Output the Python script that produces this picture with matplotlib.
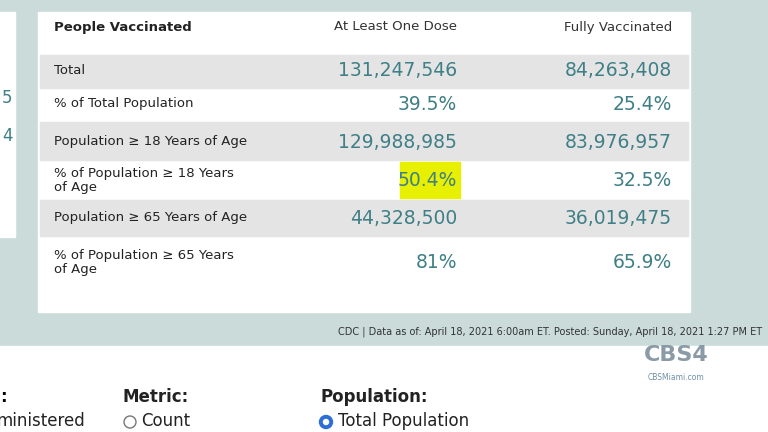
import matplotlib.pyplot as plt
from matplotlib.patches import Rectangle, Circle

header = ["People Vaccinated", "At Least One Dose", "Fully Vaccinated"]
row_labels = ["Total", "% of Total Population", "Population \u2265 18 Years of Age",
              "% of Population \u2265 18 Years\nof Age", "Population \u2265 65 Years of Age",
              "% of Population \u2265 65 Years\nof Age"]
one_dose = ["131,247,546", "39.5%", "129,988,985", "50.4%", "44,328,500", "81%"]
fully = ["84,263,408", "25.4%", "83,976,957", "32.5%", "36,019,475", "65.9%"]
row_top = [55, 88, 122, 160, 200, 236]
row_bot = [88, 122, 160, 200, 236, 292]
text_y = [71, 104, 142, 180, 218, 263]

teal = "#3f7f86"
fig = plt.figure(figsize=(7.68, 4.32), dpi=100)
ax = fig.add_axes([0, 0, 1, 1])
ax.set_xlim(0, 768)
ax.set_ylim(432, 0)
ax.axis("off")
fig.patch.set_facecolor("#cadbd9")

# left partial panel and main panel
ax.add_patch(Rectangle((0, 12), 15, 225, color="white"))
ax.text(2, 98, "5", color=teal, fontsize=12, va="center")
ax.text(2, 136, "4", color=teal, fontsize=12, va="center")
ax.add_patch(Rectangle((38, 12), 652, 300, color="white"))
for i, (t, b) in enumerate(zip(row_top, row_bot)):
    if i % 2 == 0:
        ax.add_patch(Rectangle((40, t), 648, b - t, color="#e4e4e4"))

ax.text(54, 27, header[0], fontsize=9.5, fontweight="bold", va="center", color="#222")
ax.text(457, 27, header[1], fontsize=9.5, ha="right", va="center", color="#333")
ax.text(672, 27, header[2], fontsize=9.5, ha="right", va="center", color="#333")

ax.add_patch(Rectangle((400, 162), 60, 36, color="#e6f000"))
for lab, a, b, y in zip(row_labels, one_dose, fully, text_y):
    ax.text(54, y, lab, fontsize=9.5, va="center", color="#222", linespacing=1.1)
    ax.text(457, y, a, fontsize=13.5, ha="right", va="center", color=teal)
    ax.text(672, y, b, fontsize=13.5, ha="right", va="center", color=teal)

ax.text(762, 332, "CDC | Data as of: April 18, 2021 6:00am ET. Posted: Sunday, April 18, 2021 1:27 PM ET",
        fontsize=7, ha="right", va="center", color="#333")

# bottom controls
ax.add_patch(Rectangle((0, 346), 768, 86, color="white"))
ax.text(0, 397, ":", fontsize=12, fontweight="bold", va="center")
ax.text(123, 397, "Metric:", fontsize=12, fontweight="bold", va="center", color="#222")
ax.text(320, 397, "Population:", fontsize=12, fontweight="bold", va="center", color="#222")
ax.text(-3, 421, "ministered", fontsize=12, va="center", color="#222")
ax.add_patch(Circle((130, 422), 6, fill=False, ec="#777", lw=1))
ax.text(141, 421, "Count", fontsize=12, va="center", color="#222")
ax.add_patch(Circle((326, 422), 6.5, color="#2d6fd6"))
ax.add_patch(Circle((326, 422), 2.5, color="white"))
ax.text(338, 421, "Total Population", fontsize=12, va="center", color="#222")

# logo
ax.text(676, 355, "CBS4", fontsize=16, fontweight="bold", ha="center", va="center", color="#8a9aa6")
ax.text(676, 378, "CBSMiami.com", fontsize=5.5, ha="center", va="center", color="#6f8fa8")

fig.savefig("out.png", dpi=100)
